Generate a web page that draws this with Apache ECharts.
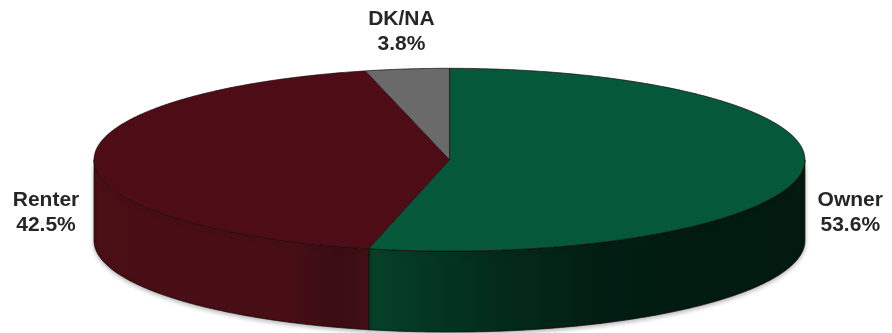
<!DOCTYPE html>
<html>
<head>
<meta charset="utf-8">
<script src="https://cdn.jsdelivr.net/npm/echarts@6/dist/echarts.min.js"></script>
<style>
  html, body { margin: 0; padding: 0; background: #ffffff; }
  #chart { width: 892px; height: 333px; }
</style>
</head>
<body>
<div id="chart"></div>
<script>
// Housing tenure shares
const categories = ['Owner', 'Renter', 'DK/NA'];
const shares = [53.6, 42.5, 3.8];
const shareLabels = ['53.6%', '42.5%', '3.8%'];

// Slice styling
const topColors = ['#05583a', '#4e0d16', '#6a6a6a'];
const sideStops = [
  [[0, '#054129'], [0.3, '#032b1b'], [0.55, '#021d13'], [1, '#021a10']],
  [[0, '#4a0e15'], [0.7, '#470e15'], [0.88, '#3b0d13'], [0.96, '#3d0f14'], [1, '#461016']],
  [[0, '#555555'], [1, '#444444']]
];

const total = shares.reduce((a, b) => a + b, 0);
const startAngles = [];
shares.reduce((acc, v) => { startAngles.push(acc / total * 360); return acc + v; }, 0);

function renderItem(params, api) {
  const i = params.dataIndex;
  const W = api.getWidth(), H = api.getHeight();
  // elliptical disc with a visible rim (tilted pie)
  const cx = W * 0.5039, cy = H * 0.4796;
  const rx = W * 0.3985, ry = H * 0.2745, depth = H * 0.2432;

  const a0 = startAngles[i];
  const a1 = a0 + api.value(0) / total * 360;

  // angle measured clockwise from 12 o'clock
  const rim = (deg, dy) => {
    const t = deg * Math.PI / 180;
    return [cx + rx * Math.sin(t), cy - ry * Math.cos(t) + dy];
  };
  const arc = (from, to, dy) => {
    const pts = [];
    const n = Math.max(2, Math.ceil(Math.abs(to - from) * 2));
    for (let k = 0; k <= n; k++) pts.push(rim(from + (to - from) * k / n, dy));
    return pts;
  };

  const children = [];

  // front rim: only the part facing the viewer (90°..270°)
  const lo = Math.max(a0, 90), hi = Math.min(a1, 270);
  if (hi > lo) {
    children.push({
      type: 'polygon',
      shape: { points: arc(lo, hi, 0).concat(arc(hi, lo, depth)) },
      style: {
        fill: new echarts.graphic.LinearGradient(0, 0, 1, 0,
          sideStops[i].map(s => ({ offset: s[0], color: s[1] }))),
        stroke: '#120707',
        lineWidth: 0.7,
        shadowBlur: 4,
        shadowColor: 'rgba(0,0,0,0.28)',
        shadowOffsetY: 2
      },
      z2: 1
    });
  }

  // top face
  children.push({
    type: 'polygon',
    shape: { points: [[cx, cy]].concat(arc(a0, a1, 0)) },
    style: { fill: topColors[i], stroke: '#1a0a0a', lineWidth: 0.7 },
    z2: 2
  });

  // label outside the slice
  const mid = (a0 + a1) / 2 * Math.PI / 180;
  const s = Math.sin(mid), c = Math.cos(mid);
  const onSide = Math.abs(s) > 0.9;
  const lx = cx + (rx + 48) * s;
  const ly = onSide ? cy + depth * 0.65 : cy - (ry + 38) * c;
  children.push({
    type: 'text',
    x: lx,
    y: ly,
    style: {
      text: categories[i] + '\n' + shareLabels[i],
      fill: '#262626',
      font: 'bold 21px "Liberation Sans", Arial, sans-serif',
      lineHeight: 25,
      align: 'center',
      verticalAlign: 'middle'
    },
    z2: 3
  });

  return { type: 'group', children };
}

const chart = echarts.init(document.getElementById('chart'), null, { renderer: 'canvas' });
chart.setOption({
  backgroundColor: '#ffffff',
  animation: false,
  series: [{
    type: 'custom',
    coordinateSystem: 'none',
    silent: true,
    renderItem: renderItem,
    data: shares.map((v, i) => ({ name: categories[i], value: [v] }))
  }]
});
</script>
</body>
</html>
